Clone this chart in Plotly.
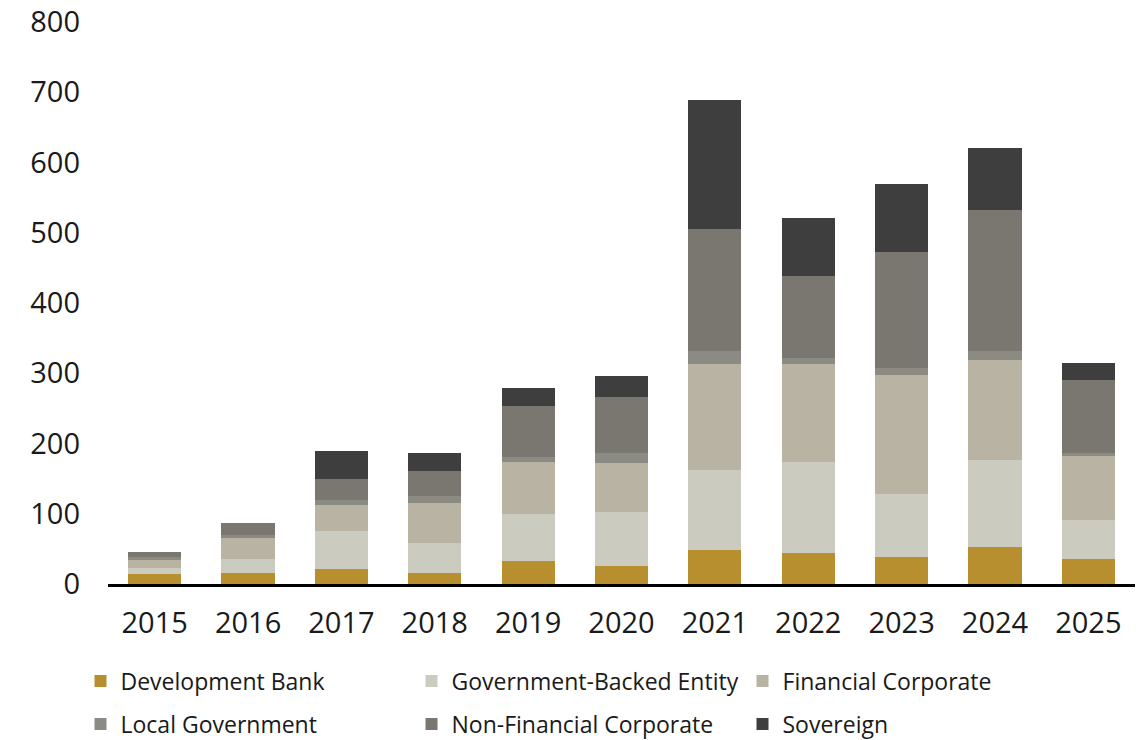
import plotly.graph_objects as go

years = ["2015", "2016", "2017", "2018", "2019", "2020", "2021", "2022", "2023", "2024", "2025"]

development_bank = [14, 16, 21, 16, 33, 26, 48, 44, 39, 52, 36]
government_backed_entity = [9, 20, 54, 43, 67, 76, 114, 129, 89, 125, 55]
financial_corporate = [11, 29, 37, 57, 74, 70, 151, 140, 169, 142, 91]
local_government = [5, 5, 7, 9, 7, 14, 19, 9, 11, 13, 4]
non_financial_corporate = [6, 17, 30, 36, 73, 80, 174, 117, 164, 201, 104]
sovereign = [0, 0, 41, 25, 25, 30, 183, 82, 97, 87, 24]

series = [
    ("Development Bank", development_bank, "#B88F2E", "legend"),
    ("Government-Backed Entity", government_backed_entity, "#CCCBBF", "legend"),
    ("Financial Corporate", financial_corporate, "#B9B3A3", "legend"),
    ("Local Government", local_government, "#8B8B83", "legend2"),
    ("Non-Financial Corporate", non_financial_corporate, "#7A7770", "legend2"),
    ("Sovereign", sovereign, "#3E3E3E", "legend2"),
]

FONT = "Open Sans, Noto Sans, sans-serif"

fig = go.Figure()
for name, values, color, leg in series:
    fig.add_trace(go.Bar(
        name=name,
        x=years,
        y=values,
        marker=dict(color=color, line=dict(width=0)),
        legend=leg,
    ))

legend_common = dict(
    orientation="h",
    traceorder="normal",
    xref="container",
    yref="container",
    xanchor="left",
    yanchor="middle",
    entrywidth=286,
    entrywidthmode="pixels",
    font=dict(family=FONT, size=23, color="#1a1a1a"),
    bgcolor="rgba(0,0,0,0)",
    itemclick=False,
    itemdoubleclick=False,
)

fig.update_layout(
    barmode="stack",
    bargap=0.43,
    width=1142,
    height=740,
    margin=dict(l=108, r=7, t=22, b=156, autoexpand=False),
    paper_bgcolor="white",
    plot_bgcolor="white",
    font=dict(family=FONT, size=29, color="#1a1a1a"),
    legend=dict(x=0.0705, y=1 - 681 / 740, **legend_common),
    legend2=dict(x=0.0705, y=1 - 724 / 740, **legend_common),
    xaxis=dict(
        type="category",
        automargin=False,
        showline=True,
        linecolor="black",
        linewidth=3,
        ticks="",
        showgrid=False,
        ticklabelstandoff=11,
        tickfont=dict(family=FONT, size=29, color="#1a1a1a"),
    ),
    yaxis=dict(
        range=[0, 800],
        dtick=100,
        automargin=False,
        showgrid=False,
        zeroline=False,
        showline=False,
        ticks="",
        ticklabelstandoff=27,
        tickfont=dict(family=FONT, size=29, color="#1a1a1a"),
    ),
)

fig.write_html("out.html")
